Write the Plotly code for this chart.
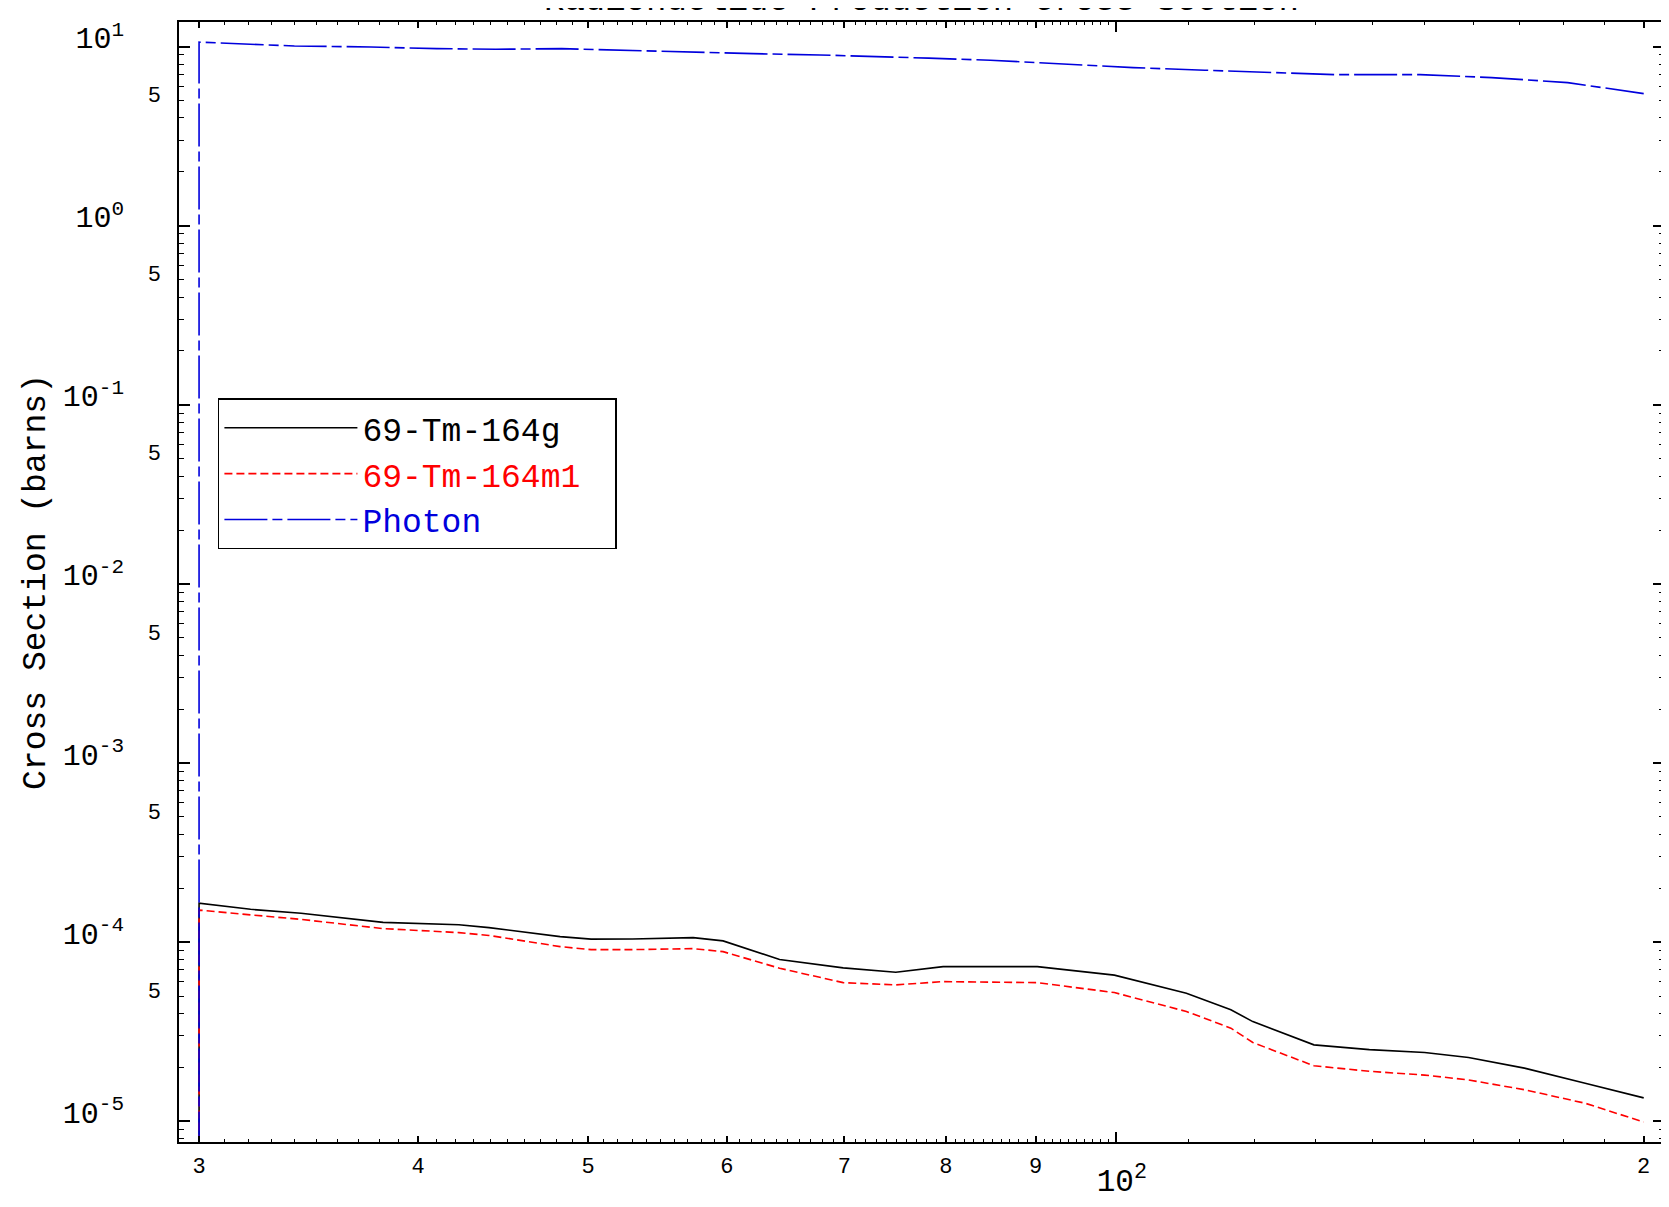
import plotly.graph_objects as go
import math

# ---- data ----
energy = [30, 30, 32.1, 34.3, 38.2, 42.2, 43.9, 48.2, 50.2, 53.0, 57.4, 59.7, 64.3, 69.9,
          74.9, 79.7, 90.2, 99.8, 109.7, 116.3, 119.7, 129.7, 139.5, 150.0, 158.9,
          171.0, 185.2, 200]
tm164g = [1e-8, 1.65e-4, 1.525e-4, 1.45e-4, 1.29e-4, 1.25e-4, 1.205e-4, 1.074e-4, 1.04e-4,
          1.042e-4, 1.06e-4, 1.016e-4, 8.0e-5, 7.18e-5, 6.79e-5, 7.3e-5, 7.3e-5, 6.54e-5,
          5.19e-5, 4.19e-5, 3.6e-5, 2.67e-5, 2.51e-5, 2.42e-5, 2.27e-5, 1.98e-5, 1.63e-5,
          1.35e-5]
tm164m1 = [1e-8, 1.51e-4, 1.42e-4, 1.34e-4, 1.19e-4, 1.13e-4, 1.09e-4, 9.44e-5, 9.08e-5,
           9.08e-5, 9.2e-5, 8.85e-5, 7.15e-5, 5.94e-5, 5.77e-5, 6.02e-5, 5.94e-5, 5.23e-5,
           4.10e-5, 3.31e-5, 2.75e-5, 2.04e-5, 1.90e-5, 1.81e-5, 1.70e-5, 1.50e-5, 1.26e-5,
           9.9e-6]
photon_energy = [30, 30, 34.0, 37.6, 41.0, 44.3, 48.3, 52.4, 57.6, 62.1, 67.8, 72.6, 78.2,
                 84.8, 93.2, 102.3, 112.4, 123.5, 133.2, 149.1, 163.8, 181.0, 200]
photon = [1e-8, 10.6, 10.09, 9.96, 9.75, 9.67, 9.75, 9.55, 9.26, 9.14, 8.99, 8.84, 8.63,
          8.40, 7.98, 7.64, 7.39, 7.13, 6.98, 6.98, 6.72, 6.30, 5.47]

series_names = ["69-Tm-164g", "69-Tm-164m1", "Photon"]
series_colors = ["#000000", "#ff0000", "#0000dd"]

x_major_ticks = [30, 40, 50, 60, 70, 80, 90, 200]
x_major_labels = ["3", "4", "5", "6", "7", "8", "9", "2"]
x_decade_tick = [100]
x_decade_label = ["10<sup>2</sup>"]
y_decades = [1e-5, 1e-4, 1e-3, 1e-2, 1e-1, 1e0, 1e1]
y_decade_labels = ["10<sup>-5</sup>", "10<sup>-4</sup>", "10<sup>-3</sup>", "10<sup>-2</sup>",
                   "10<sup>-1</sup>", "10<sup>0</sup>", "10<sup>1</sup>"]
y_fives = [5e-5, 5e-4, 5e-3, 5e-2, 5e-1, 5e0]
y_five_labels = ["5"] * len(y_fives)

FONT = "Liberation Mono, Courier New, monospace"
PAD = "<span style='font-size:25px'>&nbsp;&nbsp;</span>"

fig = go.Figure()
fig.add_trace(go.Scatter(x=energy, y=tm164g, mode="lines",
                         name=f"<span style='color:{series_colors[0]}'>{series_names[0]}</span>{PAD}",
                         line=dict(color=series_colors[0], width=1.6)))
fig.add_trace(go.Scatter(x=energy, y=tm164m1, mode="lines",
                         name=f"<span style='color:{series_colors[1]}'>{series_names[1]}</span>{PAD}",
                         line=dict(color=series_colors[1], width=1.6, dash="8px,4px")))
fig.add_trace(go.Scatter(x=photon_energy, y=photon, mode="lines",
                         name=f"<span style='color:{series_colors[2]}'>{series_names[2]}</span>{PAD}",
                         line=dict(color=series_colors[2], width=1.6, dash="43px,5px,10px,5px")))
# invisible anchors so the overlay label axes are drawn
fig.add_trace(go.Scatter(x=[100], y=[1], xaxis="x2", yaxis="y", mode="markers",
                         marker=dict(opacity=0), showlegend=False, hoverinfo="skip"))
fig.add_trace(go.Scatter(x=[100], y=[1], xaxis="x", yaxis="y2", mode="markers",
                         marker=dict(opacity=0), showlegend=False, hoverinfo="skip"))

xr = [math.log10(29.22), math.log10(205.4)]
yr = [-5.116, 1.1378]

x_minor = [v for v in range(31, 100) if v % 10 != 0] + list(range(110, 200, 10))
y_minor = [k * 10.0 ** n for n in range(-6, 2) for k in range(2, 10)]

fig.update_layout(
    width=1669, height=1207,
    margin=dict(l=171, r=11, t=13, b=73),
    paper_bgcolor="white", plot_bgcolor="white",
    font=dict(family=FONT, color="black", size=22),
    showlegend=True,
    legend=dict(x=0.0262, y=0.664, xanchor="left", yanchor="top",
                bgcolor="white", bordercolor="black", borderwidth=1.5,
                font=dict(family=FONT, size=33, color="black"),
                itemwidth=133),
    xaxis=dict(type="log", range=xr, showgrid=False, zeroline=False,
               showline=True, linecolor="black", linewidth=2, mirror="ticks",
               ticks="inside", ticklen=6, tickwidth=1.5, tickcolor="black",
               tickmode="array", tickvals=x_major_ticks, ticktext=x_major_labels,
               tickfont=dict(family=FONT, size=22), ticklabelstandoff=3,
               minor=dict(ticks="inside", ticklen=3, tickwidth=1.2, tickcolor="black",
                          tickmode="array", tickvals=x_minor, showgrid=False)),
    xaxis2=dict(type="log", range=xr, overlaying="x", anchor="y", side="bottom",
                showgrid=False, zeroline=False, showline=False, mirror="ticks",
                ticks="inside", ticklen=10, tickwidth=1.5, tickcolor="black",
                tickmode="array", tickvals=x_decade_tick, ticktext=x_decade_label,
                tickfont=dict(family=FONT, size=31), ticklabelstandoff=17,
                ticklabelshift=6),
    yaxis=dict(type="log", range=yr, showgrid=False, zeroline=False,
               showline=True, linecolor="black", linewidth=2, mirror="ticks",
               ticks="inside", ticklen=11, tickwidth=1.5, tickcolor="black",
               tickmode="array", tickvals=y_decades, ticktext=y_decade_labels,
               tickfont=dict(family=FONT, size=30), ticklabelstandoff=47,
               ticklabelshift=-9,
               minor=dict(ticks="inside", ticklen=5, tickwidth=1.2, tickcolor="black",
                          tickmode="array", tickvals=y_minor, showgrid=False),
               title=dict(text="Cross Section (barns)", font=dict(family=FONT, size=33),
                          standoff=7)),
    yaxis2=dict(type="log", range=yr, overlaying="y", anchor="x", side="left",
                showgrid=False, zeroline=False, showline=False,
                ticks="", tickmode="array", tickvals=y_fives, ticktext=y_five_labels,
                tickfont=dict(family=FONT, size=22), ticklabelstandoff=17,
                ticklabelshift=-6),
)

fig.add_annotation(text="Radionuclide Production Cross Section", xref="paper", yref="paper",
                   x=0.5, y=1.0, xanchor="center", yanchor="bottom", showarrow=False,
                   font=dict(family=FONT, size=34, color="black"))

fig.write_html("out.html")
